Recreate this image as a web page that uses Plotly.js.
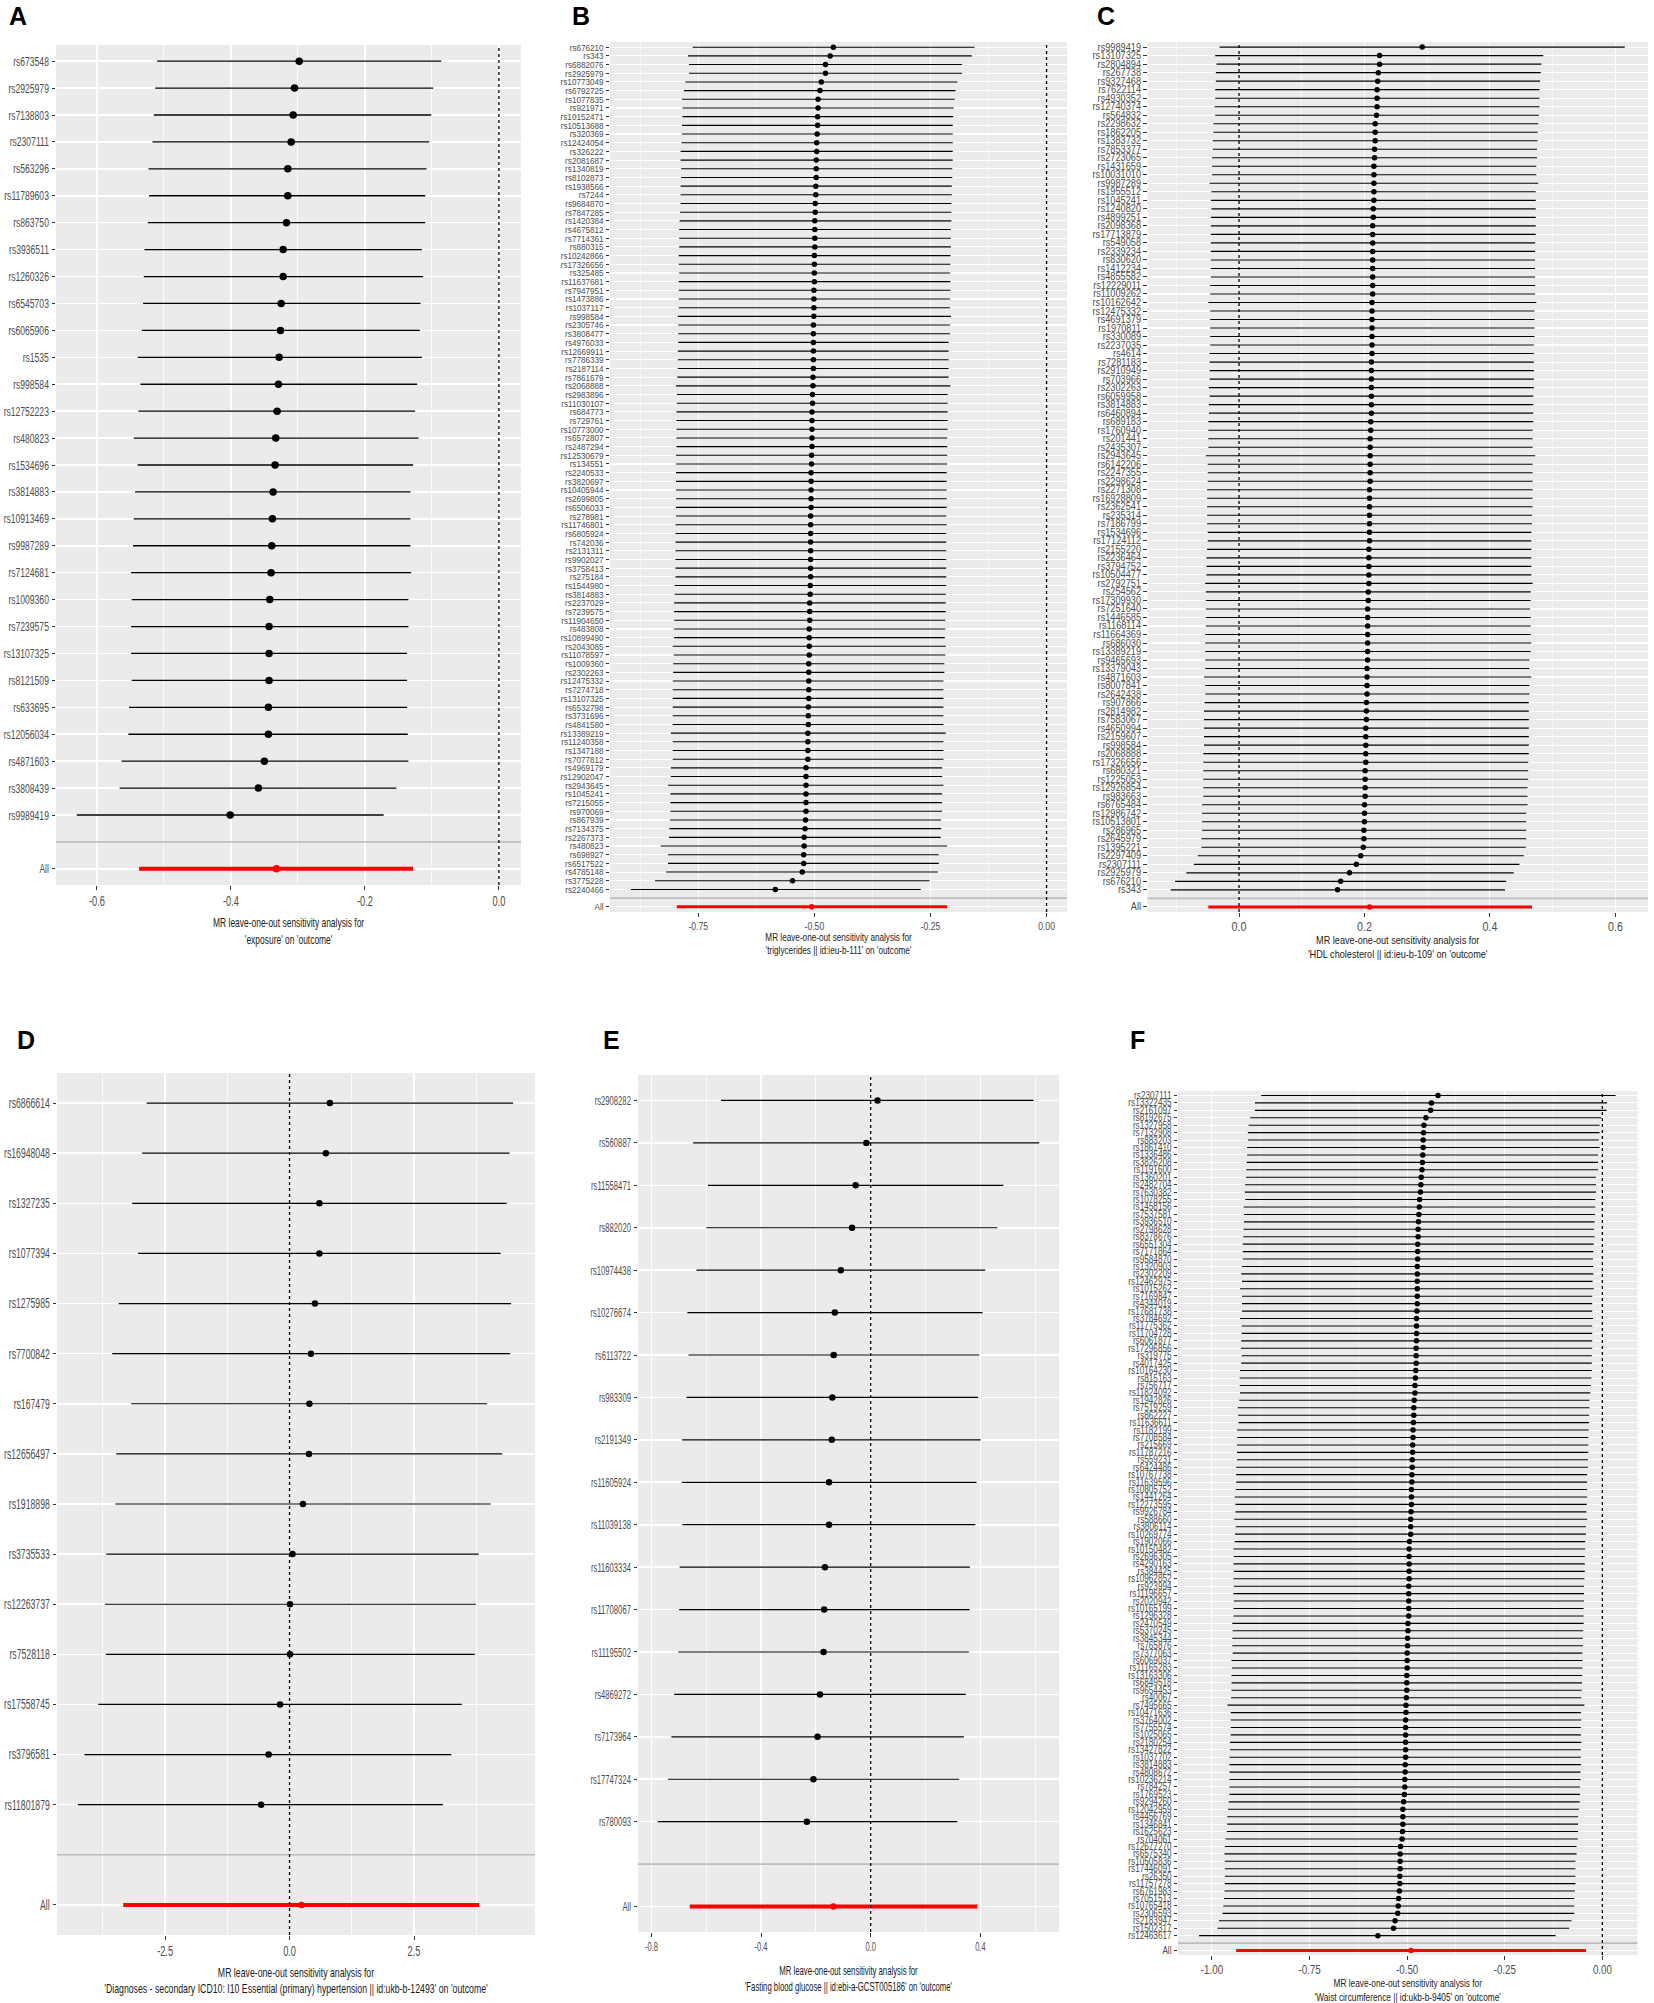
<!DOCTYPE html>
<html>
<head>
<meta charset="utf-8">
<script src="https://cdn.plot.ly/plotly-3.0.1.min.js"></script>
<style>html,body{margin:0;padding:0;background:#fff;}#chart{width:1654px;height:2003px;}</style>
</head>
<body>
<div id="chart"></div>
<script>
// ---------------- Panel A ----------------
const snpsA = ["rs673548","rs2925979","rs7138803","rs2307111","rs563296","rs11789603","rs863750","rs3936511","rs1260326","rs6545703","rs6065906","rs1535","rs998584","rs12752223","rs480823","rs1534696","rs3814883","rs10913469","rs9987289","rs7124681","rs1009360","rs7239575","rs13107325","rs8121509","rs633695","rs12056034","rs4871603","rs3808439","rs9989419"];
const bA  = [-0.298,-0.305,-0.307,-0.310,-0.315,-0.315,-0.317,-0.322,-0.322,-0.325,-0.326,-0.328,-0.329,-0.331,-0.333,-0.334,-0.337,-0.338,-0.339,-0.340,-0.342,-0.343,-0.343,-0.343,-0.344,-0.344,-0.350,-0.359,-0.401];
const loA = [-0.510,-0.513,-0.515,-0.517,-0.523,-0.522,-0.524,-0.529,-0.530,-0.531,-0.533,-0.539,-0.535,-0.538,-0.545,-0.539,-0.543,-0.545,-0.546,-0.549,-0.548,-0.549,-0.549,-0.548,-0.552,-0.553,-0.563,-0.566,-0.630];
const hiA = [-0.086,-0.098,-0.101,-0.104,-0.108,-0.110,-0.110,-0.115,-0.113,-0.117,-0.118,-0.115,-0.122,-0.125,-0.120,-0.128,-0.132,-0.132,-0.132,-0.131,-0.135,-0.135,-0.137,-0.137,-0.137,-0.136,-0.135,-0.153,-0.172];
const allA = [-0.332,-0.537,-0.128];
const tickValsA = [-0.6,-0.4,-0.2,0.0];
const tickTextA = ["-0.6","-0.4","-0.2","0.0"];
const minorValsA = [-0.5,-0.3,-0.1];
const titleA = "MR leave-one-out sensitivity analysis for<br>'exposure' on 'outcome'";

// ---------------- Panel B ----------------
const snpsB = ["rs676210","rs343","rs6882076","rs2925979","rs10773049","rs6792725","rs1077835","rs921971","rs10152471","rs10513688",
"rs320369","rs12424054","rs326222","rs2081687","rs1340819","rs8102873","rs1938566","rs7244","rs9684870","rs7847285",
"rs1420384","rs4675812","rs7714361","rs880315","rs10242866","rs17326656","rs325485","rs11637681","rs7947951","rs1473886",
"rs1037117","rs998584","rs2305746","rs3808477","rs4976033","rs12669911","rs7786339","rs2187114","rs7861679","rs2068888",
"rs2983896","rs11030107","rs684773","rs729761","rs10773000","rs6572807","rs2487294","rs12530679","rs134551","rs2240533",
"rs3820697","rs10405944","rs2699805","rs6506033","rs278981","rs11746801","rs6805924","rs742036","rs2131311","rs9902027",
"rs3758413","rs275184","rs1544980","rs3814883","rs2237029","rs7239575","rs11904650","rs483808","rs10899490","rs2043085",
"rs11078597","rs1009360","rs2302263","rs12475332","rs7274718","rs13107325","rs6532798","rs3731696","rs4841580","rs13389219",
"rs11240358","rs1347188","rs7077812","rs4969179","rs12902047","rs2943645","rs1045241","rs7215055","rs970069","rs867939",
"rs7134375","rs2267373","rs480823","rs698927","rs6517522","rs4785148","rs3775228","rs2240466"];
const bB = [-0.459,-0.466,-0.476,-0.476,-0.485,-0.488,-0.492,-0.492,-0.493,-0.493,
-0.494,-0.495,-0.495,-0.496,-0.496,-0.496,-0.497,-0.497,-0.498,-0.498,
-0.499,-0.499,-0.499,-0.499,-0.500,-0.500,-0.500,-0.500,-0.501,-0.501,
-0.501,-0.501,-0.502,-0.502,-0.502,-0.502,-0.502,-0.502,-0.503,-0.503,
-0.504,-0.504,-0.505,-0.505,-0.505,-0.505,-0.505,-0.506,-0.506,-0.507,
-0.507,-0.507,-0.507,-0.507,-0.508,-0.508,-0.508,-0.508,-0.508,-0.508,
-0.508,-0.508,-0.509,-0.509,-0.510,-0.510,-0.510,-0.511,-0.511,-0.511,
-0.511,-0.512,-0.512,-0.512,-0.512,-0.512,-0.513,-0.513,-0.513,-0.514,
-0.514,-0.514,-0.514,-0.518,-0.518,-0.518,-0.518,-0.518,-0.518,-0.519,
-0.520,-0.522,-0.522,-0.523,-0.523,-0.526,-0.547,-0.584];
const loB = [-0.762,-0.772,-0.770,-0.770,-0.778,-0.781,-0.785,-0.784,-0.784,-0.785,
-0.785,-0.786,-0.788,-0.788,-0.787,-0.787,-0.788,-0.788,-0.788,-0.789,
-0.790,-0.791,-0.791,-0.791,-0.792,-0.792,-0.791,-0.792,-0.792,-0.792,
-0.792,-0.794,-0.793,-0.793,-0.793,-0.794,-0.794,-0.794,-0.795,-0.798,
-0.796,-0.796,-0.797,-0.797,-0.797,-0.797,-0.797,-0.798,-0.798,-0.798,
-0.798,-0.798,-0.798,-0.798,-0.798,-0.799,-0.799,-0.799,-0.799,-0.799,
-0.799,-0.799,-0.801,-0.801,-0.802,-0.802,-0.802,-0.802,-0.802,-0.805,
-0.803,-0.804,-0.804,-0.805,-0.805,-0.805,-0.805,-0.805,-0.805,-0.809,
-0.805,-0.805,-0.805,-0.809,-0.809,-0.815,-0.810,-0.810,-0.810,-0.811,
-0.812,-0.813,-0.831,-0.815,-0.815,-0.819,-0.843,-0.895];
const hiB = [-0.155,-0.161,-0.182,-0.182,-0.192,-0.196,-0.198,-0.200,-0.201,-0.202,
-0.202,-0.202,-0.202,-0.202,-0.203,-0.203,-0.204,-0.204,-0.205,-0.205,
-0.205,-0.206,-0.206,-0.206,-0.207,-0.207,-0.208,-0.207,-0.207,-0.208,
-0.208,-0.206,-0.208,-0.208,-0.211,-0.211,-0.211,-0.211,-0.211,-0.207,
-0.213,-0.213,-0.213,-0.213,-0.213,-0.214,-0.214,-0.214,-0.214,-0.215,
-0.215,-0.215,-0.215,-0.215,-0.216,-0.215,-0.216,-0.216,-0.216,-0.216,
-0.216,-0.216,-0.216,-0.217,-0.217,-0.217,-0.218,-0.218,-0.219,-0.217,
-0.218,-0.220,-0.220,-0.222,-0.222,-0.222,-0.222,-0.222,-0.222,-0.217,
-0.222,-0.222,-0.222,-0.225,-0.225,-0.222,-0.225,-0.225,-0.225,-0.227,
-0.227,-0.228,-0.214,-0.232,-0.232,-0.234,-0.252,-0.271];
const allB = [-0.506,-0.796,-0.214];
const tickValsB = [-0.75,-0.5,-0.25,0.0];
const tickTextB = ["-0.75","-0.50","-0.25","0.00"];
const minorValsB = [-0.875,-0.625,-0.375,-0.125];
const titleB = "MR leave-one-out sensitivity analysis for<br>'triglycerides || id:ieu-b-111' on 'outcome'";

// ---------------- Panel C ----------------
const snpsC = ["rs9989419","rs13107325","rs2804894","rs267738","rs9327468","rs7622114","rs4930352","rs12740374","rs564832","rs2298632",
"rs1862205","rs1383732","rs7853377","rs2723065","rs1431659","rs10031010","rs9987289","rs1955512","rs1045241","rs1240820",
"rs4899251","rs2098368","rs17713879","rs549058","rs2339234","rs830620","rs1412234","rs4855582","rs12229011","rs11009262",
"rs10162642","rs12475332","rs4691379","rs1970811","rs330089","rs2237035","rs4614","rs7281183","rs2910949","rs703966",
"rs2302263","rs6059958","rs3814883","rs6460894","rs689183","rs1760940","rs201441","rs2435307","rs2943645","rs6142206",
"rs2247355","rs2298624","rs2271308","rs16928809","rs2362541","rs235314","rs7186799","rs1534696","rs17124112","rs2155220",
"rs2236464","rs3794752","rs10504477","rs2792751","rs254562","rs17309930","rs7251640","rs1446585","rs1168114","rs11664369",
"rs686030","rs13389219","rs9465693","rs13379043","rs4871603","rs8007841","rs2642438","rs907866","rs2814982","rs7583067",
"rs4650994","rs2159607","rs998584","rs2068888","rs17326656","rs680321","rs1225053","rs12926854","rs983663","rs6765484",
"rs12986742","rs10513801","rs286965","rs2645979","rs1395221","rs2297409","rs2307111","rs2925979","rs676210","rs343"];
const bC = [0.292,0.224,0.224,0.222,0.221,0.220,0.220,0.220,0.219,0.217,
0.217,0.217,0.216,0.216,0.215,0.215,0.215,0.215,0.215,0.214,
0.214,0.213,0.213,0.213,0.213,0.213,0.213,0.213,0.213,0.213,
0.212,0.212,0.212,0.212,0.212,0.212,0.212,0.211,0.211,0.211,
0.211,0.211,0.211,0.211,0.210,0.210,0.209,0.209,0.209,0.209,
0.209,0.209,0.208,0.208,0.208,0.208,0.208,0.208,0.208,0.207,
0.207,0.207,0.207,0.207,0.206,0.206,0.205,0.205,0.205,0.205,
0.205,0.205,0.205,0.204,0.204,0.204,0.204,0.203,0.203,0.203,
0.202,0.202,0.202,0.202,0.202,0.201,0.201,0.201,0.201,0.200,
0.200,0.200,0.199,0.199,0.198,0.194,0.187,0.176,0.162,0.157];
const loC = [-0.031,-0.038,-0.036,-0.037,-0.037,-0.038,-0.038,-0.039,-0.038,-0.041,
-0.041,-0.042,-0.042,-0.043,-0.043,-0.043,-0.047,-0.044,-0.045,-0.044,
-0.045,-0.045,-0.045,-0.045,-0.045,-0.045,-0.045,-0.045,-0.046,-0.046,
-0.049,-0.046,-0.046,-0.046,-0.046,-0.046,-0.047,-0.047,-0.047,-0.047,
-0.048,-0.047,-0.048,-0.048,-0.049,-0.049,-0.049,-0.049,-0.053,-0.050,
-0.050,-0.050,-0.051,-0.051,-0.051,-0.051,-0.051,-0.050,-0.050,-0.051,
-0.052,-0.052,-0.052,-0.054,-0.053,-0.053,-0.053,-0.053,-0.053,-0.054,
-0.054,-0.054,-0.054,-0.054,-0.056,-0.054,-0.054,-0.055,-0.056,-0.056,
-0.056,-0.056,-0.056,-0.057,-0.057,-0.057,-0.057,-0.057,-0.057,-0.059,
-0.059,-0.059,-0.059,-0.060,-0.060,-0.066,-0.072,-0.084,-0.102,-0.109];
const hiC = [0.615,0.485,0.482,0.481,0.480,0.479,0.479,0.479,0.478,0.477,
0.476,0.476,0.475,0.475,0.474,0.474,0.477,0.473,0.473,0.473,
0.473,0.473,0.473,0.472,0.472,0.472,0.472,0.472,0.472,0.472,
0.474,0.471,0.471,0.471,0.471,0.470,0.470,0.470,0.470,0.470,
0.470,0.469,0.469,0.469,0.469,0.468,0.468,0.468,0.472,0.468,
0.468,0.468,0.468,0.468,0.468,0.467,0.467,0.466,0.466,0.466,
0.466,0.466,0.466,0.468,0.465,0.465,0.464,0.465,0.465,0.465,
0.466,0.465,0.463,0.463,0.466,0.463,0.463,0.462,0.462,0.462,
0.462,0.462,0.462,0.462,0.461,0.461,0.461,0.460,0.460,0.460,
0.458,0.458,0.458,0.458,0.457,0.454,0.447,0.438,0.426,0.424];
const allC = [0.208,-0.049,0.467];
const tickValsC = [0.0,0.2,0.4,0.6];
const tickTextC = ["0.0","0.2","0.4","0.6"];
const minorValsC = [-0.1,0.1,0.3,0.5];
const titleC = "MR leave-one-out sensitivity analysis for<br>'HDL cholesterol || id:ieu-b-109' on 'outcome'";

// ---------------- Panel D ----------------
const snpsD = ["rs6866614","rs16948048","rs1327235","rs1077394","rs1275985","rs7700842","rs167479","rs12656497","rs1918898","rs3735533","rs12263737","rs7528118","rs17558745","rs3796581","rs11801879"];
const bD  = [0.81,0.73,0.60,0.60,0.51,0.43,0.40,0.39,0.27,0.06,0.01,0.01,-0.19,-0.42,-0.57];
const loD = [-2.87,-2.96,-3.16,-3.04,-3.43,-3.56,-3.18,-3.48,-3.50,-3.68,-3.71,-3.69,-3.84,-4.12,-4.25];
const hiD = [4.49,4.42,4.36,4.24,4.45,4.43,3.97,4.27,4.04,3.80,3.74,3.72,3.46,3.25,3.08];
const allD = [0.24,-3.34,3.81];
const tickValsD = [-2.5,0.0,2.5];
const tickTextD = ["-2.5","0.0","2.5"];
const minorValsD = [-3.75,-1.25,1.25,3.75];
const titleD = "MR leave-one-out sensitivity analysis for<br>'Diagnoses - secondary ICD10: I10 Essential (primary) hypertension || id:ukb-b-12493' on 'outcome'";

// ---------------- Panel E ----------------
const snpsE = ["rs2908282","rs560887","rs11558471","rs882020","rs10974438","rs10276674","rs6113722","rs983309","rs2191349","rs11605924","rs11039138","rs11603334","rs11708067","rs11195502","rs4869272","rs7173964","rs17747324","rs780093"];
const bE  = [0.025,-0.016,-0.055,-0.068,-0.109,-0.131,-0.135,-0.140,-0.142,-0.152,-0.152,-0.167,-0.170,-0.172,-0.185,-0.194,-0.209,-0.233];
const loE = [-0.546,-0.648,-0.594,-0.600,-0.636,-0.669,-0.665,-0.672,-0.688,-0.689,-0.687,-0.697,-0.699,-0.702,-0.717,-0.727,-0.740,-0.777];
const hiE = [0.594,0.615,0.484,0.462,0.418,0.408,0.396,0.392,0.401,0.386,0.382,0.362,0.361,0.358,0.347,0.340,0.323,0.316];
const allE = [-0.136,-0.660,0.389];
const tickValsE = [-0.8,-0.4,0.0,0.4];
const tickTextE = ["-0.8","-0.4","0.0","0.4"];
const minorValsE = [-0.6,-0.2,0.2,0.6];
const titleE = "MR leave-one-out sensitivity analysis for<br>'Fasting blood glucose || id:ebi-a-GCST005186' on 'outcome'";

// ---------------- Panel F ----------------
const snpsF = ["rs2307111","rs13322435","rs2161097","rs8192675","rs1327958","rs7132908","rs883203","rs1861410","rs1336486","rs3826208",
"rs1191600","rs1360201","rs2482704","rs7630382","rs1078255","rs1458156","rs7537581","rs3936510","rs2798628","rs8378676",
"rs6551304","rs7171864","rs9584870","rs1320903","rs2302209","rs12462975","rs1015262","rs7169847",
"rs4344019","rs17681738","rs3784692","rs11775362","rs11704728","rs6061877","rs17296856","rs319775","rs4017425","rs10164230",
"rs815163","rs756717","rs11824092","rs1942826","rs7519259","rs862227","rs11636611","rs1182199","rs7708584","rs215669",
"rs11787216","rs559231","rs6424486","rs10767738","rs11639596","rs10805752","rs1441264","rs12273595","rs9926784","rs588660",
"rs3806114","rs10269774","rs1902066","rs10150482","rs2696305","rs4290163","rs384425","rs10962852","rs923994","rs11196657",
"rs2020942","rs10165199","rs1296328","rs2470549","rs5370245","rs3845344","rs765876","rs7377063","rs6069037","rs11165283",
"rs13163306","rs6849518","rs9654453","rs40067","rs7495665","rs10471636","rs3764002","rs7755574","rs1025065",
"rs2180254","rs13427822","rs1037702","rs3814883","rs4808672","rs10236214","rs784257","rs1769523","rs9294260","rs12042959",
"rs4456769","rs1346841","rs1625623","rs704061","rs12677270","rs6575340","rs10505836","rs17446091","rs26350","rs11757278",
"rs6761983","rs7051513","rs10765418","rs2306593","rs2183947","rs1502317","rs12463617"];
const bF = [-0.421,-0.438,-0.440,-0.452,-0.457,-0.458,-0.459,-0.459,-0.460,-0.461,
-0.462,-0.464,-0.465,-0.466,-0.468,-0.469,-0.470,-0.471,-0.472,-0.472,
-0.473,-0.473,-0.473,-0.474,-0.474,-0.474,-0.474,-0.474,
-0.474,-0.475,-0.476,-0.476,-0.476,-0.476,-0.477,-0.477,-0.477,-0.478,
-0.479,-0.480,-0.480,-0.482,-0.483,-0.483,-0.484,-0.485,-0.485,-0.486,
-0.486,-0.487,-0.487,-0.488,-0.488,-0.489,-0.489,-0.489,-0.490,-0.491,
-0.491,-0.491,-0.494,-0.495,-0.495,-0.495,-0.495,-0.495,-0.496,-0.496,
-0.496,-0.496,-0.496,-0.498,-0.498,-0.499,-0.499,-0.500,-0.500,-0.500,
-0.501,-0.501,-0.501,-0.502,-0.503,-0.503,-0.504,-0.504,-0.504,
-0.504,-0.504,-0.504,-0.505,-0.505,-0.506,-0.506,-0.507,-0.509,-0.511,
-0.511,-0.511,-0.512,-0.513,-0.517,-0.518,-0.518,-0.518,-0.519,-0.519,
-0.520,-0.522,-0.523,-0.524,-0.531,-0.535,-0.575];
const loF = [-0.874,-0.890,-0.890,-0.902,-0.906,-0.908,-0.908,-0.910,-0.910,-0.911,
-0.912,-0.913,-0.915,-0.916,-0.915,-0.919,-0.918,-0.918,-0.919,-0.920,
-0.921,-0.921,-0.921,-0.923,-0.925,-0.923,-0.928,-0.923,
-0.923,-0.923,-0.928,-0.924,-0.924,-0.925,-0.926,-0.924,-0.925,-0.928,
-0.929,-0.929,-0.928,-0.930,-0.934,-0.933,-0.932,-0.936,-0.935,-0.936,
-0.936,-0.936,-0.938,-0.938,-0.938,-0.939,-0.942,-0.940,-0.940,-0.943,
-0.939,-0.941,-0.942,-0.945,-0.944,-0.945,-0.944,-0.945,-0.944,-0.945,
-0.944,-0.945,-0.945,-0.948,-0.947,-0.948,-0.948,-0.947,-0.950,-0.949,
-0.950,-0.950,-0.950,-0.951,-0.960,-0.952,-0.952,-0.952,-0.952,
-0.954,-0.954,-0.955,-0.955,-0.955,-0.955,-0.955,-0.955,-0.957,-0.959,
-0.961,-0.961,-0.962,-0.965,-0.967,-0.968,-0.967,-0.967,-0.967,-0.967,
-0.968,-0.969,-0.971,-0.973,-0.982,-0.986,-1.033];
const hiF = [0.034,0.012,0.011,-0.003,-0.007,-0.007,-0.009,-0.007,-0.011,-0.011,
-0.011,-0.016,-0.016,-0.016,-0.018,-0.018,-0.019,-0.020,-0.021,-0.020,
-0.022,-0.023,-0.024,-0.023,-0.023,-0.025,-0.022,-0.026,
-0.026,-0.026,-0.024,-0.026,-0.026,-0.026,-0.026,-0.027,-0.027,-0.027,
-0.028,-0.029,-0.031,-0.033,-0.033,-0.034,-0.034,-0.035,-0.036,-0.036,
-0.036,-0.037,-0.037,-0.039,-0.039,-0.039,-0.039,-0.040,-0.041,-0.039,
-0.042,-0.042,-0.044,-0.044,-0.045,-0.045,-0.045,-0.046,-0.047,-0.047,
-0.047,-0.048,-0.048,-0.048,-0.049,-0.050,-0.050,-0.051,-0.051,-0.051,
-0.052,-0.052,-0.053,-0.054,-0.046,-0.055,-0.054,-0.055,-0.055,
-0.054,-0.055,-0.055,-0.055,-0.056,-0.056,-0.057,-0.057,-0.058,-0.060,
-0.062,-0.062,-0.062,-0.063,-0.066,-0.066,-0.069,-0.069,-0.069,-0.069,
-0.070,-0.072,-0.072,-0.072,-0.079,-0.085,-0.120];
const allF = [-0.490,-0.938,-0.042];
const tickValsF = [-1.0,-0.75,-0.5,-0.25,0.0];
const tickTextF = ["-1.00","-0.75","-0.50","-0.25","0.00"];
const minorValsF = [-0.875,-0.625,-0.375,-0.125];
const titleF = "MR leave-one-out sensitivity analysis for<br>'Waist circumference || id:ukb-b-9405' on 'outcome'";

const panelLetters = ["A","B","C","D","E","F"];

// ---------------- Build figure ----------------
const W = 1654, H = 2003;
const SANS = "'Liberation Sans', Arial, Helvetica, sans-serif";

// ys/xs/ts: horizontal squeeze of y tick labels, x tick labels and x titles (the source figure is horizontally compressed)
const panels = [
  {snps:snpsA,b:bA,lo:loA,hi:hiA,all:allA,tv:tickValsA,tt:tickTextA,mv:minorValsA,title:titleA,
   range:[-0.661,0.033], px:[56,521], py:[45,885], ytf:13, ys:0.66, xtf:14, xs:0.66, ttf:13, ts:0.65,
   ms:7.5, lw:1.3, allw:4, gw:1.6, mgw:0.8, so:9, letter:[18,16]},
  {snps:snpsB,b:bB,lo:loB,hi:hiB,all:allB,tv:tickValsB,tt:tickTextB,mv:minorValsB,title:titleB,
   range:[-0.940,0.044], px:[610,1067], py:[42,912], ytf:9.8, ys:0.83, xtf:11.5, xs:0.75, ttf:10, ts:0.82,
   ms:5.5, lw:1.1, allw:3, gw:1.1, mgw:0.6, so:0, letter:[581,16]},
  {snps:snpsC,b:bC,lo:loC,hi:hiC,all:allC,tv:tickValsC,tt:tickTextC,mv:minorValsC,title:titleC,
   range:[-0.146,0.652], px:[1147.5,1648], py:[42,912], ytf:10, ys:0.92, xtf:12.5, xs:0.86, ttf:10.5, ts:0.87,
   ms:5.5, lw:1.1, allw:3, gw:1.1, mgw:0.6, so:0, letter:[1106,16]},
  {snps:snpsD,b:bD,lo:loD,hi:hiD,all:allD,tv:tickValsD,tt:tickTextD,mv:minorValsD,title:titleD,
   range:[-4.67,4.93], px:[57,535], py:[1073,1935], ytf:14, ys:0.62, xtf:14, xs:0.66, ttf:12.5, ts:0.70,
   ms:6.5, lw:1.2, allw:4, gw:1.6, mgw:0.8, so:9, letter:[26,1040]},
  {snps:snpsE,b:bE,lo:loE,hi:hiE,all:allE,tv:tickValsE,tt:tickTextE,mv:minorValsE,title:titleE,
   range:[-0.849,0.687], px:[638,1059], py:[1075,1932], ytf:13, ys:0.59, xtf:12.5, xs:0.60, ttf:12.5, ts:0.62,
   ms:6.5, lw:1.2, allw:4, gw:1.6, mgw:0.8, so:12, letter:[611,1040]},
  {snps:snpsF,b:bF,lo:loF,hi:hiF,all:allF,tv:tickValsF,tt:tickTextF,mv:minorValsF,title:titleF,
   range:[-1.087,0.090], px:[1178,1637.5], py:[1091,1955], ytf:10, ys:0.82, xtf:12.5, xs:0.78, ttf:10.5, ts:0.79,
   ms:5.5, lw:1.1, allw:3, gw:1.0, mgw:0.6, so:1, letter:[1137,1040]}
];

const traces = [];
const layout = {
  width: W, height: H,
  margin: {l:0, r:0, t:0, b:0, pad:0},
  paper_bgcolor: '#FFFFFF',
  plot_bgcolor: '#EBEBEB',
  showlegend: false,
  font: {family: SANS, color: '#4D4D4D'},
  shapes: [],
  annotations: []
};

panels.forEach((p, i) => {
  const n = i + 1;
  const sx = n === 1 ? '' : String(n);
  const xa = 'x' + sx, ya = 'y' + sx;
  const cats = ['All', ' '].concat(p.snps.slice().reverse());
  const shownCats = cats.filter(c => c !== ' ');

  traces.push({
    type: 'scatter', mode: 'markers', x: p.b, y: p.snps, xaxis: xa, yaxis: ya,
    marker: {color: '#000000', size: p.ms, line: {width: 0}},
    error_x: {type: 'data', symmetric: false,
      array: p.hi.map((h, k) => h - p.b[k]),
      arrayminus: p.b.map((v, k) => v - p.lo[k]),
      color: '#000000', thickness: p.lw, width: 0},
    hoverinfo: 'skip', cliponaxis: false
  });
  traces.push({
    type: 'scatter', mode: 'markers', x: [p.all[0]], y: ['All'], xaxis: xa, yaxis: ya,
    marker: {color: '#FF0000', size: p.ms, line: {width: 0}},
    error_x: {type: 'data', symmetric: false,
      array: [p.all[2] - p.all[0]], arrayminus: [p.all[0] - p.all[1]],
      color: '#FF0000', thickness: p.allw, width: 0},
    hoverinfo: 'skip', cliponaxis: false
  });

  layout['xaxis' + sx] = {
    domain: [p.px[0] / W, p.px[1] / W], anchor: ya,
    range: p.range, tickmode: 'array', tickvals: p.tv, ticktext: p.tt,
    ticks: 'outside', ticklen: 3.5, tickwidth: 1, tickcolor: '#333333',
    tickfont: {family: SANS, size: p.xtf, color: '#4D4D4D'},
    showgrid: true, gridcolor: '#FFFFFF', gridwidth: p.gw,
    minor: {tickmode: 'array', tickvals: p.mv, showgrid: true, gridcolor: '#FFFFFF', gridwidth: p.mgw, ticks: ''},
    zeroline: false, showline: false, fixedrange: true,
    title: {text: p.title, font: {family: SANS, size: p.ttf, color: '#1A1A1A'}, standoff: p.so}
  };
  layout['yaxis' + sx] = {
    domain: [1 - p.py[1] / H, 1 - p.py[0] / H], anchor: xa,
    type: 'category', categoryorder: 'array', categoryarray: cats,
    range: [-0.6, cats.length - 0.4],
    tickmode: 'array', tickvals: shownCats, ticktext: shownCats,
    ticks: 'outside', ticklen: 3.5, tickwidth: 1, tickcolor: '#333333',
    tickfont: {family: SANS, size: p.ytf, color: '#4D4D4D'},
    showgrid: true, gridcolor: '#FFFFFF', gridwidth: p.gw,
    zeroline: false, showline: false, fixedrange: true
  };

  // grey separator line at the blank level, dotted line at zero
  layout.shapes.push({type: 'line', xref: xa + ' domain', x0: 0, x1: 1, yref: ya, y0: 1, y1: 1,
    line: {color: '#BEBEBE', width: 1.6}, layer: 'above'});
  layout.shapes.push({type: 'line', xref: xa, x0: 0, x1: 0, yref: ya + ' domain', y0: 0, y1: 1,
    line: {color: '#000000', width: 1.3, dash: 'dot'}, layer: 'above'});

  layout.annotations.push({
    text: '<b>' + panelLetters[i] + '</b>', xref: 'paper', yref: 'paper',
    x: p.letter[0] / W, y: 1 - p.letter[1] / H, xanchor: 'center', yanchor: 'middle',
    showarrow: false, font: {family: SANS, size: 25, color: '#000000'}
  });
});

function squeeze(sel, s, mode) {
  document.querySelectorAll(sel).forEach(el => {
    let bb;
    try { bb = el.getBBox(); } catch (e) { return; }
    if (!bb || !bb.width) return;
    const ax = mode === 'right' ? bb.x + bb.width : bb.x + bb.width / 2;
    const old = el.getAttribute('transform') || '';
    el.setAttribute('transform', old + ' translate(' + ax + ',0) scale(' + s + ',1) translate(' + (-ax) + ',0)');
  });
}

Plotly.newPlot('chart', traces, layout, {staticPlot: true, displayModeBar: false}).then(() => {
  panels.forEach((p, i) => {
    const id = i === 0 ? '' : String(i + 1);
    squeeze('#chart g.y' + id + 'tick text', p.ys, 'right');
    squeeze('#chart g.x' + id + 'tick text', p.xs, 'center');
    squeeze('#chart text.x' + id + 'title', p.ts, 'center');
  });
});
</script>
</body>
</html>
